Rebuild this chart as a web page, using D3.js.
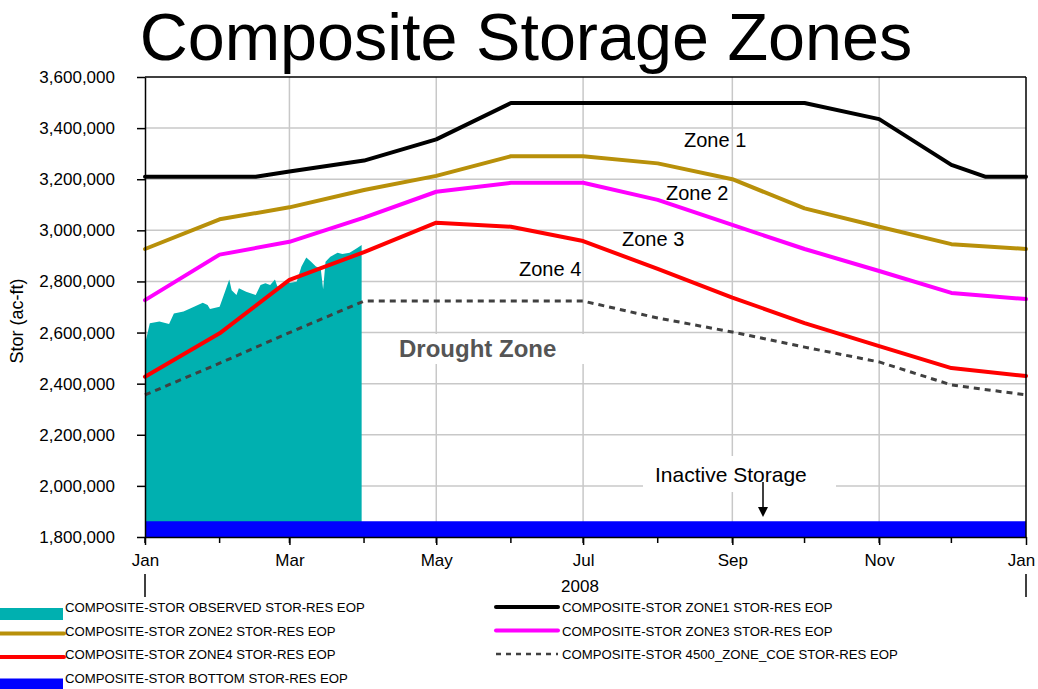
<!DOCTYPE html>
<html>
<head>
<meta charset="utf-8">
<script src="https://cdn.jsdelivr.net/npm/d3@7"></script>
<style>
body { margin: 0; background: #fff; }
text { font-family: "Liberation Sans", Arial, sans-serif; }
</style>
</head>
<body>
<div id="cContainer"></div>
<script>
// monthly break points used by zones 2-4 and the COE zone
var monthDates = ["2008-01-01", "2008-02-01", "2008-03-01", "2008-04-01", "2008-05-01", "2008-06-01", "2008-07-01",
	"2008-08-01", "2008-09-01", "2008-10-01", "2008-11-01", "2008-12-01", "2009-01-01"];

var zone1Dates = ["2008-01-01", "2008-02-16", "2008-03-01", "2008-04-01", "2008-05-01", "2008-06-01", "2008-07-01",
	"2008-08-01", "2008-09-01", "2008-10-01", "2008-11-01", "2008-12-01", "2008-12-15", "2009-01-01"];
var zone1Values = [3210000, 3210000, 3230000, 3273000, 3356000, 3498000, 3498000,
	3498000, 3498000, 3498000, 3435000, 3256000, 3210000, 3210000];

var zone2Values = [2927000, 3043000, 3090000, 3158000, 3213000, 3290000, 3290000,
	3262000, 3200000, 3086000, 3014000, 2946000, 2927000];
var zone3Values = [2727000, 2905000, 2955000, 3050000, 3151000, 3186000, 3186000,
	3119000, 3021000, 2927000, 2841000, 2755000, 2731000];
var zone4Values = [2427000, 2597000, 2806000, 2915000, 3030000, 3014000, 2958000,
	2849000, 2737000, 2637000, 2547000, 2461000, 2430000];
var coeValues = [2356000, 2480000, 2600000, 2723000, 2723000, 2723000, 2723000,
	2657000, 2602000, 2543000, 2485000, 2395000, 2356000];

var bottomDates = ["2008-01-01", "2009-01-01"];
var bottomValues = [1862000, 1862000];

var obsDates = ["2008-01-01", "2008-01-03", "2008-01-07", "2008-01-11", "2008-01-13", "2008-01-17", "2008-01-20",
	"2008-01-25", "2008-01-27", "2008-01-28", "2008-02-01", "2008-02-03", "2008-02-05", "2008-02-06", "2008-02-08",
	"2008-02-09", "2008-02-12", "2008-02-16", "2008-02-18", "2008-02-20", "2008-02-22", "2008-02-24", "2008-02-25",
	"2008-02-29", "2008-03-04", "2008-03-06", "2008-03-08", "2008-03-10", "2008-03-12", "2008-03-14", "2008-03-15",
	"2008-03-16", "2008-03-18", "2008-03-21", "2008-03-23", "2008-03-26", "2008-03-29", "2008-03-31"];
var obsValues = [2555000, 2636000, 2643000, 2633000, 2675000, 2682000, 2695000,
	2717000, 2708000, 2692000, 2701000, 2754000, 2808000, 2766000, 2747000,
	2773000, 2760000, 2747000, 2786000, 2793000, 2786000, 2808000, 2780000,
	2793000, 2799000, 2858000, 2894000, 2877000, 2858000, 2851000, 2769000,
	2877000, 2897000, 2912000, 2907000, 2912000, 2930000, 2943000];

var yTicks = [1800000, 2000000, 2200000, 2400000, 2600000, 2800000, 3000000, 3200000, 3400000, 3600000];

var legendLabels = ["COMPOSITE-STOR OBSERVED STOR-RES EOP", "COMPOSITE-STOR ZONE1 STOR-RES EOP",
	"COMPOSITE-STOR ZONE2 STOR-RES EOP", "COMPOSITE-STOR ZONE3 STOR-RES EOP",
	"COMPOSITE-STOR ZONE4 STOR-RES EOP", "COMPOSITE-STOR 4500_ZONE_COE STOR-RES EOP",
	"COMPOSITE-STOR BOTTOM STOR-RES EOP"];

var parse = d3.timeParse("%Y-%m-%d");

function zip(dates, values) {
	var res = [];
	for (var i = 0; i < dates.length; i++) {
		res.push({date: parse(dates[i]), value: values[i]});
	}
	return res;
}

var width = 1038, height = 689;
var plotLeft = 145, plotRight = 1026, plotTop = 77, plotBottom = 537;

var svg = d3.select("#cContainer").append("svg")
	.attr("width", width)
	.attr("height", height);

var x = d3.scaleTime()
	.domain([parse("2008-01-01"), parse("2009-01-01")])
	.range([plotLeft, plotRight]);
var y = d3.scaleLinear()
	.domain([1800000, 3600000])
	.range([plotBottom, plotTop]);

// title
svg.append("text")
	.attr("x", 526)
	.attr("y", 60)
	.attr("text-anchor", "middle")
	.style("font-size", "66.5px")
	.text("Composite Storage Zones");

// grid
var majorMonths = d3.timeMonth.every(2).range(parse("2008-01-01"), parse("2009-01-02"));
svg.append("g").selectAll("line")
	.data(majorMonths.slice(1, majorMonths.length - 1))
	.enter().append("line")
	.attr("x1", function(d) { return x(d); })
	.attr("x2", function(d) { return x(d); })
	.attr("y1", plotTop)
	.attr("y2", plotBottom)
	.attr("stroke", "#c8c8c8")
	.attr("stroke-width", 1.5);
svg.append("g").selectAll("line")
	.data(yTicks.slice(1, yTicks.length - 1))
	.enter().append("line")
	.attr("x1", plotLeft)
	.attr("x2", plotRight)
	.attr("y1", function(d) { return y(d); })
	.attr("y2", function(d) { return y(d); })
	.attr("stroke", "#c8c8c8")
	.attr("stroke-width", 1.5);

// observed area
var area = d3.area()
	.x(function(d) { return x(d.date); })
	.y0(y(1800000))
	.y1(function(d) { return y(d.value); });
svg.append("path")
	.datum(zip(obsDates, obsValues))
	.attr("d", area)
	.attr("fill", "#00b0b0");

// bottom (inactive) storage
svg.append("path")
	.datum(zip(bottomDates, bottomValues))
	.attr("d", area)
	.attr("fill", "#0000ff");

var line = d3.line()
	.x(function(d) { return x(d.date); })
	.y(function(d) { return y(d.value); });

svg.append("path")
	.datum(zip(monthDates, coeValues))
	.attr("d", line)
	.attr("fill", "none")
	.attr("stroke", "#404040")
	.attr("stroke-width", 3)
	.attr("stroke-dasharray", "6,5");

var zones = [
	{dates: zone1Dates, values: zone1Values, color: "#000000"},
	{dates: monthDates, values: zone2Values, color: "#b8900a"},
	{dates: monthDates, values: zone3Values, color: "#ff00ff"},
	{dates: monthDates, values: zone4Values, color: "#ff0000"}
];
zones.forEach(function(z) {
	svg.append("path")
		.datum(zip(z.dates, z.values))
		.attr("d", line)
		.attr("fill", "none")
		.attr("stroke", z.color)
		.attr("stroke-width", 4)
		.attr("stroke-linejoin", "round")
		.attr("stroke-linecap", "round");
});

// annotations
svg.append("rect").attr("x", 380).attr("y", 334).attr("width", 205).attr("height", 30).attr("fill", "#fff");
svg.append("text")
	.attr("x", 399).attr("y", 357)
	.style("font-size", "24px").style("font-weight", "bold")
	.attr("fill", "#555555")
	.text("Drought Zone");

svg.append("rect").attr("x", 643).attr("y", 456).attr("width", 193).attr("height", 36).attr("fill", "#fff");
svg.append("text")
	.attr("x", 655).attr("y", 482)
	.style("font-size", "21px")
	.text("Inactive Storage");
svg.append("line")
	.attr("x1", 763).attr("x2", 763).attr("y1", 482).attr("y2", 508)
	.attr("stroke", "#000").attr("stroke-width", 1.5);
svg.append("path")
	.attr("d", "M758,507 L768,507 L763,517 Z")
	.attr("fill", "#000");

var zoneLabels = [["Zone 1", 684, 147], ["Zone 2", 666, 200], ["Zone 3", 622, 246], ["Zone 4", 519, 276]];
svg.append("g").selectAll("text")
	.data(zoneLabels)
	.enter().append("text")
	.attr("x", function(d) { return d[1]; })
	.attr("y", function(d) { return d[2]; })
	.style("font-size", "20px")
	.text(function(d) { return d[0]; });

// frame
svg.append("line").attr("x1", plotLeft).attr("x2", plotRight).attr("y1", plotTop).attr("y2", plotTop)
	.attr("stroke", "#000").attr("stroke-width", 1.5);
svg.append("line").attr("x1", plotRight).attr("x2", plotRight).attr("y1", plotTop).attr("y2", plotBottom)
	.attr("stroke", "#000").attr("stroke-width", 1.5);

// axes
var yAxis = svg.append("g")
	.attr("transform", "translate(" + plotLeft + ",0)")
	.call(d3.axisLeft(y).tickValues(yTicks).tickFormat(d3.format(",")).tickSize(8).tickSizeOuter(0).tickPadding(22));
yAxis.selectAll("text").style("font-size", "17px").attr("fill", "#000");
yAxis.selectAll("line, path").attr("stroke", "#000").attr("stroke-width", 1.5);

var xAxis = svg.append("g")
	.attr("transform", "translate(0," + plotBottom + ")")
	.call(d3.axisBottom(x).tickValues(majorMonths).tickFormat(d3.timeFormat("%b")).tickSize(8).tickSizeOuter(0).tickPadding(9));
xAxis.selectAll("text").style("font-size", "17px").attr("fill", "#000");
xAxis.selectAll("line, path").attr("stroke", "#000").attr("stroke-width", 1.5);
// last label is pulled in a little so it stays inside the picture
xAxis.selectAll(".tick").filter(function(d, i) { return i === majorMonths.length - 1; })
	.select("text").attr("dx", -5);

var minorMonths = d3.timeMonth.range(parse("2008-01-01"), parse("2009-01-01"));
svg.append("g").selectAll("line")
	.data(minorMonths)
	.enter().append("line")
	.attr("x1", function(d) { return x(d); })
	.attr("x2", function(d) { return x(d); })
	.attr("y1", plotBottom)
	.attr("y2", plotBottom + 6)
	.attr("stroke", "#000")
	.attr("stroke-width", 1.5);

// year dividers and label
svg.append("g").selectAll("line")
	.data([parse("2008-01-01"), parse("2009-01-01")])
	.enter().append("line")
	.attr("x1", function(d) { return x(d); })
	.attr("x2", function(d) { return x(d); })
	.attr("y1", 574)
	.attr("y2", 597)
	.attr("stroke", "#000")
	.attr("stroke-width", 1.5);
svg.append("text")
	.attr("x", 580).attr("y", 592)
	.attr("text-anchor", "middle")
	.style("font-size", "17px")
	.text("2008");

svg.append("text")
	.attr("transform", "translate(23,321) rotate(-90)")
	.attr("text-anchor", "middle")
	.style("font-size", "18px")
	.text("Stor (ac-ft)");

// legend
var legendItems = [
	{label: legendLabels[0], col: 0, row: 0, color: "#00b0b0", type: "rect"},
	{label: legendLabels[1], col: 1, row: 0, color: "#000000", type: "line"},
	{label: legendLabels[2], col: 0, row: 1, color: "#b8900a", type: "line"},
	{label: legendLabels[3], col: 1, row: 1, color: "#ff00ff", type: "line"},
	{label: legendLabels[4], col: 0, row: 2, color: "#ff0000", type: "line"},
	{label: legendLabels[5], col: 1, row: 2, color: "#404040", type: "dash"},
	{label: legendLabels[6], col: 0, row: 3, color: "#0000ff", type: "rect"}
];
var legend = svg.append("g");
legendItems.forEach(function(d) {
	var x0 = d.col === 0 ? 0 : 494;
	var yc = 608 + d.row * 23.5;
	if (d.type === "rect") {
		legend.append("rect").attr("x", x0).attr("y", yc).attr("width", 63).attr("height", 12).attr("fill", d.color);
	} else {
		legend.append("line")
			.attr("x1", x0 + (d.col === 0 ? 0 : 2)).attr("x2", x0 + 64)
			.attr("y1", yc + (d.col === 0 ? 2 : -1)).attr("y2", yc + (d.col === 0 ? 2 : -1))
			.attr("stroke", d.color)
			.attr("stroke-width", d.type === "dash" ? 2.5 : 4)
			.attr("stroke-dasharray", d.type === "dash" ? "5,5" : null)
			.attr("stroke-linecap", d.type === "dash" ? "butt" : "round");
	}
	legend.append("text")
		.attr("x", d.col === 0 ? 65 : 562)
		.attr("y", yc + 4)
		.style("font-size", "13.2px")
		.text(d.label);
});
</script>
</body>
</html>
